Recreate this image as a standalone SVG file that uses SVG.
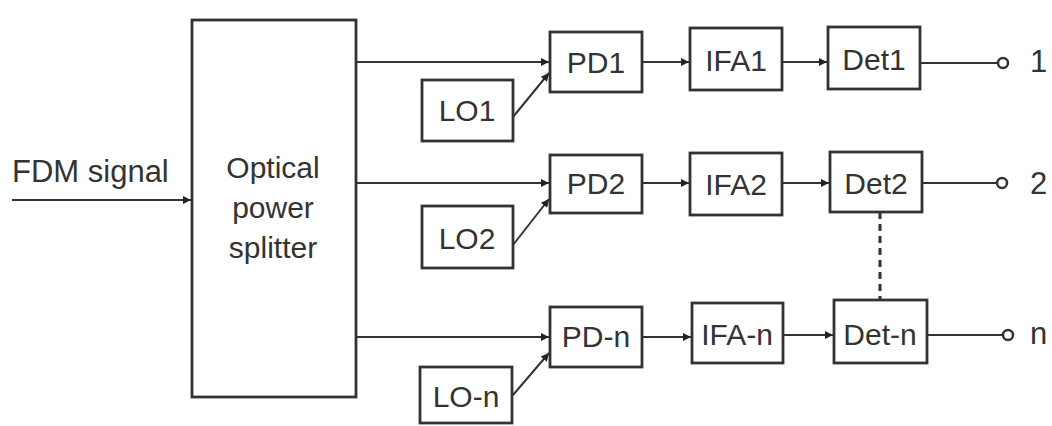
<svg xmlns="http://www.w3.org/2000/svg" width="1052" height="426" viewBox="0 0 1052 426">
<style>
.box{fill:#fff;stroke:#333;stroke-width:2.8}
.ln{fill:none;stroke:#333;stroke-width:2}
.t{font-family:"Liberation Sans",Arial,sans-serif;font-size:30px;fill:#333;text-anchor:middle}
.tl{font-family:"Liberation Sans",Arial,sans-serif;font-size:31px;fill:#333}
</style>
<defs>
<marker id="ah" viewBox="0 0 10 10" refX="10" refY="5" markerWidth="10" markerHeight="8" markerUnits="userSpaceOnUse" orient="auto">
<path d="M0,0 L10,5 L0,10 z" fill="#222"/>
</marker>
</defs>
<rect width="1052" height="426" fill="#fff"/>
<g id="connectors">
<line class="ln" x1="12" y1="200" x2="191" y2="200" marker-end="url(#ah)"/>
<line class="ln" x1="356" y1="62" x2="549" y2="62" marker-end="url(#ah)"/>
<line class="ln" x1="356" y1="183" x2="549" y2="183" marker-end="url(#ah)"/>
<line class="ln" x1="356" y1="337" x2="549" y2="337" marker-end="url(#ah)"/>
<line class="ln" x1="513" y1="117" x2="549" y2="73" marker-end="url(#ah)"/>
<line class="ln" x1="513" y1="245" x2="549" y2="199" marker-end="url(#ah)"/>
<line class="ln" x1="513" y1="395" x2="549" y2="353" marker-end="url(#ah)"/>
<line class="ln" x1="642" y1="62" x2="689" y2="62" marker-end="url(#ah)"/>
<line class="ln" x1="642" y1="183" x2="689" y2="183" marker-end="url(#ah)"/>
<line class="ln" x1="642" y1="337" x2="691" y2="337" marker-end="url(#ah)"/>
<line class="ln" x1="782" y1="62" x2="827" y2="62" marker-end="url(#ah)"/>
<line class="ln" x1="782" y1="183" x2="829" y2="183" marker-end="url(#ah)"/>
<line class="ln" x1="783" y1="335" x2="833" y2="335" marker-end="url(#ah)"/>
<line class="ln" x1="920" y1="63" x2="998" y2="63"/>
<line class="ln" x1="922" y1="183" x2="997" y2="183"/>
<line class="ln" x1="927" y1="335" x2="1003" y2="335"/>
<line x1="880" y1="212" x2="880" y2="300" stroke="#333" stroke-width="3" stroke-dasharray="7,5"/>
<circle cx="1003" cy="63" r="5" fill="#fff" stroke="#333" stroke-width="2.5"/>
<circle cx="1002" cy="183" r="5" fill="#fff" stroke="#333" stroke-width="2.5"/>
<circle cx="1008" cy="335" r="5" fill="#fff" stroke="#333" stroke-width="2.5"/>
</g>
<text class="tl" x="12" y="182">FDM signal</text>
<g id="splitter">
<rect class="box" x="192" y="20" width="164" height="377"/>
<text class="t" x="273" y="178" font-size="31">Optical</text>
<text class="t" x="273" y="218" font-size="31">power</text>
<text class="t" x="273" y="258" font-size="31">splitter</text>
</g>
<g id="pd1"><rect class="box" x="550" y="32" width="92" height="60"/><text class="t" x="596" y="73">PD1</text></g>
<g id="lo1"><rect class="box" x="422" y="80" width="91" height="61"/><text class="t" x="467" y="121">LO1</text></g>
<g id="ifa1"><rect class="box" x="690" y="28" width="92" height="62"/><text class="t" x="736" y="71">IFA1</text></g>
<g id="det1"><rect class="box" x="828" y="27" width="92" height="62"/><text class="t" x="874" y="70">Det1</text></g>
<g id="pd2"><rect class="box" x="550" y="155" width="92" height="58"/><text class="t" x="596" y="194">PD2</text></g>
<g id="lo2"><rect class="box" x="422" y="206" width="91" height="62"/><text class="t" x="467" y="249">LO2</text></g>
<g id="ifa2"><rect class="box" x="690" y="153" width="92" height="62"/><text class="t" x="736" y="195">IFA2</text></g>
<g id="det2"><rect class="box" x="830" y="152" width="92" height="60"/><text class="t" x="876" y="194">Det2</text></g>
<g id="pdn"><rect class="box" x="550" y="307" width="92" height="60"/><text class="t" x="596" y="347">PD-n</text></g>
<g id="lon"><rect class="box" x="420" y="367" width="92" height="56"/><text class="t" x="466" y="407">LO-n</text></g>
<g id="ifan"><rect class="box" x="692" y="303" width="91" height="60"/><text class="t" x="737" y="345">IFA-n</text></g>
<g id="detn"><rect class="box" x="834" y="300" width="93" height="63"/><text class="t" x="880" y="345">Det-n</text></g>
<g id="out1"><text class="tl" x="1030" y="72">1</text></g>
<g id="out2"><text class="tl" x="1030" y="194">2</text></g>
<g id="outn"><text class="tl" x="1030" y="344">n</text></g>
</svg>
